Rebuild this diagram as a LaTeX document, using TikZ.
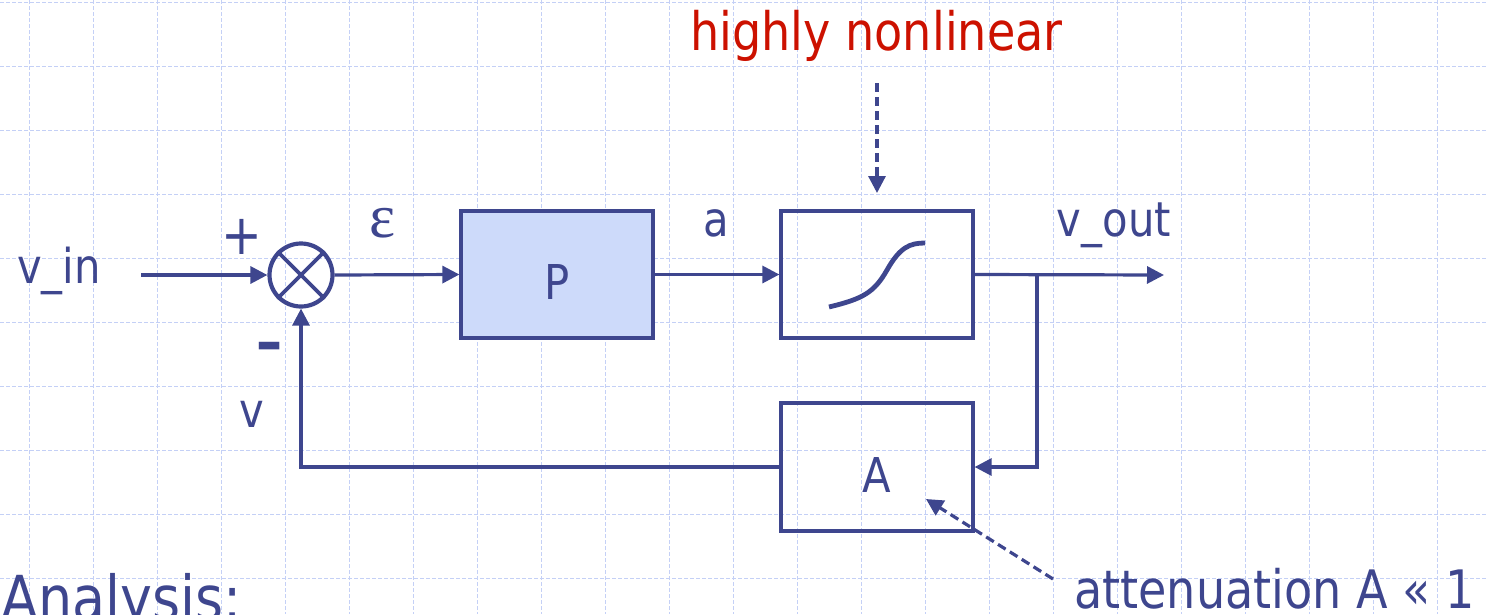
\documentclass[tikz,border=0pt]{standalone}
\usepackage{fontspec}
\setmainfont{DejaVu Sans}[FakeStretch=0.87]
\newfontfamily\greekserif{Liberation Serif}
\usetikzlibrary{arrows.meta}
\definecolor{navy}{RGB}{62,70,142}
\definecolor{hired}{RGB}{204,17,0}
\definecolor{pfill}{RGB}{205,218,250}
\definecolor{gridc}{RGB}{196,208,246}
\begin{document}
\begin{tikzpicture}[x=1pt,y=-1pt,
  gridline/.style={gridc, line width=1.4pt, dash pattern=on 4pt off 2pt},
  blockbox/.style={draw=navy, line width=3.2pt, minimum width=192pt, minimum height=127pt, inner sep=0pt},
  conn/.style={navy, line width=3.2pt, -{Triangle[length=17pt,width=17pt]}},
  dashconn/.style={navy, line width=3.2pt, dash pattern=on 9pt off 5pt, -{Triangle[length=17pt,width=17pt]}},
  lbl/.style={text=navy, inner sep=0pt, font=\fontsize{48}{56}\selectfont},
  note/.style={inner sep=0pt, font=\fontsize{53}{62}\selectfont}]
\useasboundingbox (0,0) rectangle (1488,614);
\clip (0,0) rectangle (1488,614);
% background grid
\foreach \gx in {29.3,93.3,...,1440} \draw[gridline] (\gx,0) -- (\gx,614);
\foreach \gy in {2.7,66.7,...,600} \draw[gridline] (0,\gy) -- (1488,\gy);

% blocks
\node[circle, draw=navy, line width=4.2pt, minimum size=63pt, inner sep=0pt] (sum) at (301,275) {};
\draw[navy, line width=3.6pt] (sum.north east) -- (sum.south west) (sum.north west) -- (sum.south east);
\node[blockbox, fill=pfill] (P) at (557,274.5) {};
\node[lbl, anchor=base] (Plbl) at (557,299) {P};
\node[blockbox] (NL) at (877,274.5) {};
\node[blockbox, minimum height=128pt] (A) at (877,467) {};
\node[lbl, anchor=base] (Albl) at (876.5,492) {A};
\draw[navy, line width=4.8pt] (829,307) .. controls (862,299) and (874,293) .. (887,270)
  .. controls (900,247) and (910,243) .. (925,243);

% coordinates
\coordinate (in) at (141,275);
\coordinate (out) at (1164,275);
\coordinate (br) at (1037,275);
\coordinate (hnstart) at (877,83);
\coordinate (hnend) at (877,193);
\coordinate (atstart) at (1053,579);
\coordinate (atend) at (926,499);

% connectors
\draw[conn] (in) -- (sum.west);
\draw[conn] (sum.east) -- (P.west);
\draw[conn] (P.east) -- (NL.west);
\draw[conn] (NL.east) -- (out);
\draw[conn] (br) |- (A.east);
\draw[conn] (A.west) -| (sum.south);
\draw[dashconn] (hnstart) -- (hnend);
\draw[dashconn] (atstart) -- (atend);

% labels
\node[lbl, anchor=base west] (vin) at (17,283) {v\_in};
\node[lbl, anchor=center, font=\fontsize{56}{64}\selectfont] (plus) at (241.5,236.7) {+};
\node[lbl, anchor=center, font=\fontsize{60}{68}\selectfont\bfseries] (minus) at (269.5,352) {–};
\node[lbl, anchor=base, font=\fontsize{62}{70}\selectfont\greekserif] (eps) at (383,237) {ε};
\node[lbl, anchor=base] (alab) at (716,236.7) {a};
\node[lbl, anchor=base west] (vout) at (1056.7,236.7) {v\_out};
\node[lbl, anchor=base] (vlab) at (252,427.7) {v};
\node[note, text=hired, anchor=base west] (hn) at (690,50) {highly nonlinear};
\node[note, text=navy, anchor=base west] (att) at (1074,608) {attenuation A « 1};
\node[lbl, anchor=base west, font=\fontsize{62}{70}\selectfont] (ana) at (1,620) {Analysis:};
\end{tikzpicture}
\end{document}
